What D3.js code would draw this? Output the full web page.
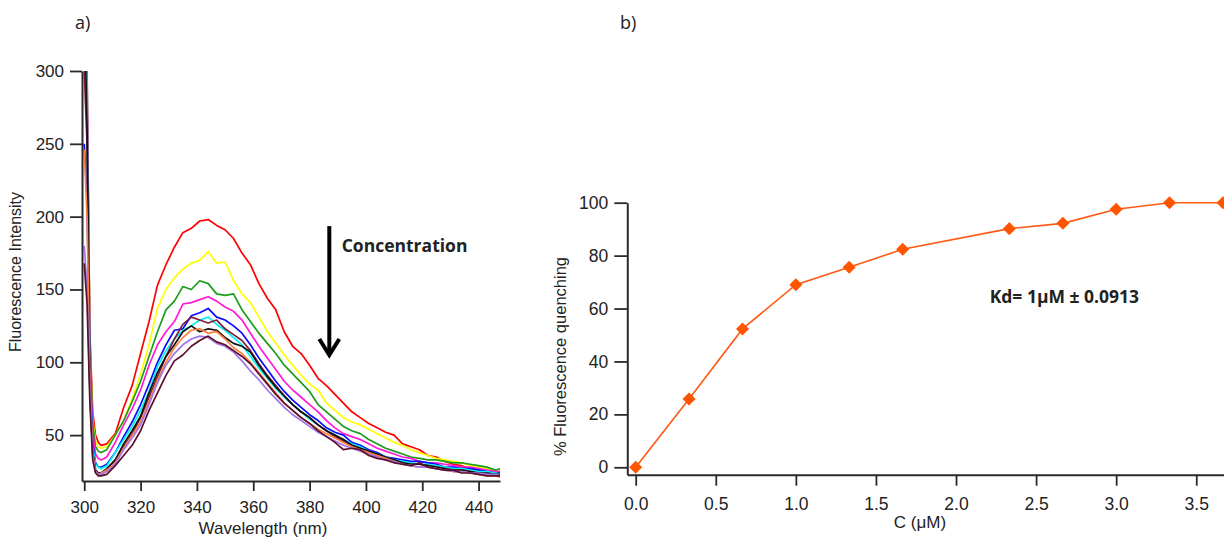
<!DOCTYPE html>
<html>
<head>
<meta charset="utf-8">
<script src="https://cdn.jsdelivr.net/npm/d3@7"></script>
<style>
  body { margin: 0; background: #fff; }
  svg text { font-family: "Liberation Sans", Arial, sans-serif; fill: #222; }
</style>
</head>
<body>
<div id="chart"></div>
<script>

// ---------- panel a : emission spectra ----------
// wavelength grid (nm) shared by every spectrum
var wavelengths = [300, 301, 302, 303, 304, 305, 306, 308, 311, 314, 317, 320, 323, 326, 329, 332, 335, 338,
    341, 344, 347, 350, 353, 356, 359, 362, 365, 368, 371, 374, 377, 380, 383, 386, 389, 392, 395, 398,
    401, 404, 407, 410, 413, 416, 419, 422, 425, 428, 431, 434, 437, 440, 443, 446, 448];

// fluorescence intensity, one array per titration step
var red = [430, 280, 120, 66, 50, 45, 43, 44, 51, 69, 84, 106, 128, 153, 167, 179, 189, 192, 197, 198, 194, 191, 185, 175, 167, 154, 144, 136, 121, 111, 106, 98, 89, 84, 78, 72, 66, 62, 58, 55, 52, 50, 44, 42, 40, 36, 35, 32, 30, 29, 27, 26, 25, 25, 24];
var yellow = [420, 270, 110, 60, 46, 42, 41, 42, 50, 60, 75, 92, 112, 137, 150, 158, 164, 168, 170, 176, 168, 169, 156, 147, 141, 131, 121, 113, 105, 98, 91, 85, 81, 72, 67, 62, 59, 57, 54, 51, 48, 45, 43, 40, 38, 36, 34, 33, 32, 31, 29, 28, 27, 26, 26];
var green = [440, 300, 115, 58, 42, 39, 38, 40, 50, 60, 73, 87, 104, 121, 136, 142, 152, 150, 156, 154, 147, 146, 147, 136, 128, 120, 113, 106, 98, 92, 86, 80, 71, 66, 61, 56, 53, 51, 47, 44, 41, 39, 37, 35, 34, 33, 33, 32, 31, 31, 30, 29, 28, 26, 27];
var magenta = [450, 300, 105, 52, 37, 34, 33, 35, 45, 57, 68, 81, 98, 112, 121, 128, 140, 141, 143, 145, 142, 138, 135, 129, 120, 111, 103, 95, 87, 81, 76, 71, 66, 60, 55, 51, 49, 47, 44, 41, 39, 37, 35, 34, 32, 31, 31, 30, 29, 28, 28, 27, 26, 25, 25];
var blue = [250, 210, 95, 45, 31, 28, 28, 30, 38, 49, 59, 71, 85, 100, 112, 122, 123, 132, 134, 137, 131, 129, 125, 120, 112, 103, 95, 87, 80, 74, 69, 64, 60, 55, 52, 50, 45, 43, 40, 38, 35, 34, 33, 32, 32, 31, 30, 28, 28, 27, 27, 26, 25, 24, 24];
var cyan = [380, 270, 90, 42, 30, 28, 27, 29, 38, 47, 56, 67, 80, 97, 108, 116, 122, 125, 129, 131, 126, 122, 117, 112, 104, 96, 89, 82, 76, 71, 66, 61, 57, 53, 50, 47, 44, 42, 39, 37, 35, 33, 32, 31, 30, 30, 29, 28, 27, 27, 26, 25, 25, 24, 23];
var maroon = [300, 250, 80, 38, 26, 24, 24, 26, 33, 42, 51, 62, 76, 90, 104, 116, 126, 131, 129, 127, 129, 123, 119, 115, 108, 99, 91, 84, 77, 71, 66, 62, 57, 53, 49, 46, 43, 41, 38, 36, 34, 33, 31, 30, 30, 29, 28, 27, 26, 26, 25, 24, 23, 23, 22];
var black = [350, 260, 85, 38, 26, 24, 24, 27, 33, 44, 53, 63, 79, 93, 104, 112, 121, 125, 121, 123, 122, 117, 113, 111, 107, 98, 90, 83, 77, 71, 66, 62, 57, 53, 50, 47, 43, 41, 39, 37, 35, 33, 31, 30, 30, 29, 28, 27, 26, 26, 25, 24, 24, 23, 23];
var orange = [246, 200, 85, 36, 25, 23, 24, 26, 31, 41, 50, 59, 73, 88, 100, 110, 117, 122, 123, 120, 121, 116, 110, 106, 100, 93, 86, 79, 72, 67, 62, 58, 54, 51, 48, 45, 42, 40, 38, 36, 34, 32, 30, 29, 28, 28, 27, 26, 25, 25, 24, 23, 22, 22, 21];
var lavender = [180, 150, 80, 35, 25, 23, 23, 25, 30, 40, 48, 57, 71, 86, 98, 106, 112, 116, 118, 117, 113, 111, 107, 101, 94, 88, 81, 75, 69, 64, 60, 56, 52, 49, 46, 43, 41, 39, 37, 35, 33, 32, 30, 29, 28, 28, 27, 26, 25, 25, 24, 24, 23, 23, 22];
var dark = [168, 140, 72, 33, 24, 22, 22, 23, 29, 36, 43, 53, 67, 79, 91, 101, 105, 111, 115, 118, 114, 112, 108, 104, 99, 92, 85, 78, 72, 67, 62, 58, 53, 49, 45, 40, 41, 40, 36, 34, 33, 31, 30, 29, 31, 28, 27, 26, 26, 24, 24, 23, 22, 22, 22];

var spectra = [red, yellow, green, magenta, blue, cyan, maroon, black, orange, lavender, dark];
var spectraColors = ["#ff0000", "#ffff00", "#1c9c1c", "#ff1ad6", "#0a0aff", "#00f2f2",
    "#7d1f3f", "#111111", "#ff7f40", "#a274e6", "#5c0f2c"];

var xTicksA = [300, 320, 340, 360, 380, 400, 420, 440];
var yTicksA = [50, 100, 150, 200, 250, 300];

// ---------- panel b : quenching curve ----------
var conc = [0, 0.333, 0.667, 1.0, 1.333, 1.667, 2.333, 2.667, 3.0, 3.333, 3.667];
var quenching = [0, 25.8, 52.3, 69.0, 75.6, 82.4, 90.2, 92.2, 97.5, 100, 100];
var xTicksB = [0, 0.5, 1.0, 1.5, 2.0, 2.5, 3.0, 3.5];
var yTicksB = [0, 20, 40, 60, 80, 100];


var svg = d3.select("#chart")
    .append("svg")
    .attr("width", 1224)
    .attr("height", 539);

function styleAxis(g, size) {
    g.attr("font-size", null).attr("font-family", null);
    g.select(".domain").attr("stroke", "#2a2a2a").attr("stroke-width", 2);
    g.selectAll(".tick line").attr("stroke", "#2a2a2a").attr("stroke-width", 1.8);
    g.selectAll(".tick text").style("font-size", size + "px").attr("fill", "#222");
}

// ===== panel a =====
var ma = {left: 82, top: 71},
    wa = 418,
    ha = 410;

var ga = svg.append("g")
    .attr("transform", "translate(" + ma.left + "," + ma.top + ")");

var xa = d3.scaleLinear().domain([299.2, 447.6]).range([0, wa]);
var ya = d3.scaleLinear().domain([18.5, 300]).range([ha, 0]);

ga.append("clipPath")
    .attr("id", "clipA")
    .append("rect")
    .attr("width", wa)
    .attr("height", ha);

var lineA = d3.line()
    .x(function (d, i) { return xa(wavelengths[i]); })
    .y(function (d) { return ya(d); });

ga.append("g")
    .attr("clip-path", "url(#clipA)")
    .selectAll(".spec")
    .data(spectra)
    .enter()
    .append("path")
    .attr("class", "spec")
    .attr("fill", "none")
    .attr("stroke", function (d, i) { return spectraColors[i]; })
    .attr("stroke-width", 1.7)
    .attr("stroke-linejoin", "round")
    .attr("d", lineA);

ga.append("g")
    .attr("transform", "translate(0," + ha + ")")
    .call(d3.axisBottom(xa).tickValues(xTicksA).tickSize(10).tickSizeOuter(0).tickPadding(10))
    .call(styleAxis, 17);

ga.append("g")
    .call(d3.axisLeft(ya).tickValues(yTicksA).tickSize(12).tickSizeOuter(0).tickPadding(6))
    .call(styleAxis, 17);

// arrow + label
var arrow = {wl: 387, from: 193.5, to: 105};
ga.append("line")
    .attr("x1", xa(arrow.wl)).attr("x2", xa(arrow.wl))
    .attr("y1", ya(arrow.from)).attr("y2", ya(arrow.to) - 2)
    .attr("stroke", "#000")
    .attr("stroke-width", 4);
ga.append("path")
    .attr("d", "M" + (xa(arrow.wl) - 10) + "," + (ya(arrow.to) - 16) +
        "L" + xa(arrow.wl) + "," + ya(arrow.to) +
        "L" + (xa(arrow.wl) + 10) + "," + (ya(arrow.to) - 16))
    .attr("fill", "none")
    .attr("stroke", "#000")
    .attr("stroke-width", 4);

ga.append("text")
    .attr("x", xa(391.4))
    .attr("y", ya(175.7))
    .style("font-family", "'Open Sans', sans-serif")
    .style("font-weight", "bold")
    .style("font-size", "17.5px")
    .attr("fill", "#111")
    .text("Concentration");

ga.append("text")
    .attr("x", wa / 2 - 28)
    .attr("y", ha + 53)
    .attr("text-anchor", "middle")
    .style("font-size", "17px")
    .text("Wavelength (nm)");

svg.append("text")
    .attr("transform", "translate(21,272) rotate(-90)")
    .attr("text-anchor", "middle")
    .style("font-size", "16px")
    .text("Fluorescence Intensity");

svg.append("text")
    .attr("x", 75)
    .attr("y", 29)
    .style("font-family", "'Open Sans', sans-serif")
    .style("font-size", "18px")
    .attr("fill", "#404040")
    .text("a)");

// ===== panel b =====
var mb = {left: 627.3, top: 202.7},
    wb = 609,
    hb = 272;

var gb = svg.append("g")
    .attr("transform", "translate(" + mb.left + "," + mb.top + ")");

var xb = d3.scaleLinear().domain([-0.0524, 3.75]).range([0, wb]);
var yb = d3.scaleLinear().domain([-2.8, 100]).range([hb, 0]);

gb.append("g")
    .attr("transform", "translate(0," + hb + ")")
    .call(d3.axisBottom(xb).tickValues(xTicksB).tickFormat(d3.format(".1f")).tickSize(11).tickSizeOuter(0).tickPadding(12))
    .call(styleAxis, 17.5);

gb.append("g")
    .call(d3.axisLeft(yb).tickValues(yTicksB).tickSize(13).tickSizeOuter(0).tickPadding(6))
    .call(styleAxis, 17.5);

var pts = conc.map(function (c, i) { return {c: c, q: quenching[i]}; });

gb.append("path")
    .datum(pts)
    .attr("fill", "none")
    .attr("stroke", "#ff5a14")
    .attr("stroke-width", 1.6)
    .attr("d", d3.line()
        .x(function (d) { return xb(d.c); })
        .y(function (d) { return yb(d.q); }));

gb.selectAll(".dot")
    .data(pts)
    .enter()
    .append("path")
    .attr("class", "dot")
    .attr("d", d3.symbol().type(d3.symbolSquare).size(85))
    .attr("transform", function (d) {
        return "translate(" + xb(d.c) + "," + yb(d.q) + ") rotate(45)";
    })
    .attr("fill", "#ff5500");

gb.append("text")
    .attr("x", xb(2.21))
    .attr("y", yb(62.1))
    .style("font-family", "'Open Sans', sans-serif")
    .style("font-weight", "bold")
    .style("font-size", "17.5px")
    .attr("fill", "#111")
    .text("Kd= 1\u03bcM \u00b1 0.0913");

svg.append("text")
    .attr("x", 920)
    .attr("y", 528)
    .attr("text-anchor", "middle")
    .style("font-size", "17px")
    .text("C (\u03bcM)");

svg.append("text")
    .attr("transform", "translate(566,356.5) rotate(-90)")
    .attr("text-anchor", "middle")
    .style("font-size", "16.5px")
    .text("% Fluorescence quenching");

svg.append("text")
    .attr("x", 620)
    .attr("y", 29)
    .style("font-family", "'Open Sans', sans-serif")
    .style("font-size", "18px")
    .attr("fill", "#404040")
    .text("b)");

</script>
</body>
</html>
